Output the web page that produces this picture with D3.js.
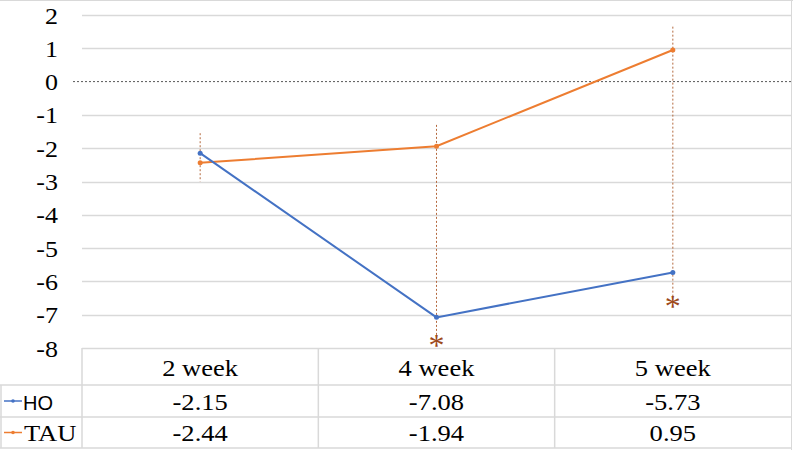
<!DOCTYPE html>
<html>
<head>
<meta charset="utf-8">
<script src="https://cdn.jsdelivr.net/npm/d3@7"></script>
<style>
  body { margin: 0; background: #fff; }
  svg { display: block; }
</style>
</head>
<body>
<svg id="chart" width="793" height="450"></svg>
<script>
// data
var weeks = ["2 week", "4 week", "5 week"];
var seriesNames = ["HO", "TAU"];
var hoValues = [-2.15, -7.08, -5.73];
var tauValues = [-2.44, -1.94, 0.95];
var errTop = [-1.55, -1.3, 1.65];
var errBottom = [-3.0, -7.8, -6.65];
var starValues = [null, -7.82, -6.66];
var yTicks = [2, 1, 0, -1, -2, -3, -4, -5, -6, -7, -8];

var colors = {HO: "#4472C4", TAU: "#ED7D31"};
var grid = "#D9D9D9";
var serif = "'Liberation Serif', 'Times New Roman', serif";
var sans = "'Liberation Sans', Arial, sans-serif";
var stretch = 1.13; // serif text in the picture is a bit wide

var svg = d3.select("#chart");
var mLeft = 82, mRight = 791, mTop = 15, mBottom = 348;

var x = d3.scaleBand().domain(weeks).range([mLeft, mRight]);
var y = d3.scaleLinear().domain([-8, 2]).range([mBottom, mTop]);

function serifText(g, tx, ty, anchor, size, str) {
  return g.append("text")
    .attr("transform", "translate(" + tx + "," + ty + ") scale(" + stretch + ",1)")
    .attr("text-anchor", anchor).attr("font-family", serif)
    .attr("font-size", size).attr("fill", "#000").text(str);
}

// outer frame
svg.append("line").attr("x1", 0).attr("x2", 793).attr("y1", 0.5).attr("y2", 0.5)
  .attr("stroke", grid);
svg.append("line").attr("x1", 791.5).attr("x2", 791.5).attr("y1", 0).attr("y2", 450)
  .attr("stroke", grid);

// gridlines
svg.selectAll("line.grid").data(yTicks.filter(function(d){ return d !== 0; }))
  .enter().append("line").attr("class", "grid")
  .attr("x1", mLeft).attr("x2", mRight)
  .attr("y1", function(d){ return Math.round(y(d)) + 0.5; })
  .attr("y2", function(d){ return Math.round(y(d)) + 0.5; })
  .attr("stroke", grid).attr("stroke-width", 1.5);

// zero line dashed
svg.append("line").attr("x1", 73).attr("x2", mRight)
  .attr("y1", y(0)).attr("y2", y(0))
  .attr("stroke", "#595959").attr("stroke-width", 1).attr("stroke-dasharray", "2,2");

// y tick labels (plain hyphen as minus)
var yAxis = d3.axisLeft(y).tickValues(yTicks).tickSize(0).tickPadding(0)
  .tickFormat(function(d){ return String(d); });
var ya = svg.append("g").attr("transform", "translate(58,0)").call(yAxis);
ya.select(".domain").remove();
ya.selectAll(".tick text").each(function() {
  var t = d3.select(this);
  t.attr("font-family", serif).attr("font-size", 23).attr("fill", "#000")
    .attr("x", null).attr("dy", "0.35em")
    .attr("transform", "scale(" + stretch + ",1)");
});

// table
var rowTop = [348, 385, 417, 448];
var tbl = svg.append("g").attr("stroke", grid).attr("stroke-width", 1.5);
tbl.append("line").attr("x1", 0).attr("x2", mRight).attr("y1", rowTop[1]).attr("y2", rowTop[1]);
tbl.append("line").attr("x1", 0).attr("x2", mRight).attr("y1", rowTop[2]).attr("y2", rowTop[2]);
tbl.append("line").attr("x1", 0).attr("x2", mRight).attr("y1", rowTop[3]).attr("y2", rowTop[3]);
tbl.append("line").attr("x1", 1).attr("x2", 1).attr("y1", rowTop[1]).attr("y2", rowTop[3]);
tbl.selectAll("line.col").data(weeks).enter().append("line").attr("class", "col")
  .attr("x1", function(d){ return x(d); }).attr("x2", function(d){ return x(d); })
  .attr("y1", rowTop[0]).attr("y2", rowTop[3]);

weeks.forEach(function(w) {
  serifText(svg, x(w) + x.bandwidth() / 2, 376, "middle", 23.5, w);
});

var rows = [{name: "HO", values: hoValues, base: 410},
            {name: "TAU", values: tauValues, base: 441}];
rows.forEach(function(r, i) {
  var cy = (rowTop[i + 1] + rowTop[i + 2]) / 2;
  svg.append("line").attr("x1", 4).attr("x2", 22).attr("y1", cy).attr("y2", cy)
    .attr("stroke", colors[r.name]).attr("stroke-width", 1.5);
  svg.append("circle").attr("cx", 13).attr("cy", cy).attr("r", 1.8).attr("fill", colors[r.name]);
  if (r.name === "HO") {
    svg.append("text").attr("x", 23).attr("y", r.base).attr("font-family", sans)
      .attr("font-size", 20).text(r.name);
  } else {
    serifText(svg, 24, r.base, "start", 23.5, r.name);
  }
  r.values.forEach(function(v, j) {
    serifText(svg, x(weeks[j]) + x.bandwidth() / 2, r.base, "middle", 23.5, v.toFixed(2));
  });
});

// error / drop lines
svg.selectAll("line.err").data(weeks).enter().append("line").attr("class", "err")
  .attr("x1", function(d){ return x(d) + x.bandwidth() / 2; })
  .attr("x2", function(d){ return x(d) + x.bandwidth() / 2; })
  .attr("y1", function(d, i){ return y(errTop[i]); })
  .attr("y2", function(d, i){ return y(errBottom[i]); })
  .attr("stroke", "#B4693E").attr("stroke-width", 1).attr("stroke-dasharray", "2,2");

// series lines
var line = d3.line()
  .x(function(d, i){ return x(weeks[i]) + x.bandwidth() / 2; })
  .y(function(d){ return y(d); });
[["TAU", tauValues], ["HO", hoValues]].forEach(function(s) {
  svg.append("path").datum(s[1]).attr("d", line).attr("fill", "none")
    .attr("stroke", colors[s[0]]).attr("stroke-width", 2);
  svg.selectAll(null).data(s[1]).enter().append("circle")
    .attr("cx", function(d, i){ return x(weeks[i]) + x.bandwidth() / 2; })
    .attr("cy", function(d){ return y(d); }).attr("r", 2.5)
    .attr("fill", colors[s[0]]);
});

// significance stars
starValues.forEach(function(v, i) {
  if (v === null) return;
  svg.append("text")
    .attr("x", x(weeks[i]) + x.bandwidth() / 2).attr("y", y(v) + 14)
    .attr("text-anchor", "middle").attr("font-family", serif).attr("font-size", 32)
    .attr("fill", "#9E4A1C").text("*");
});
</script>
</body>
</html>
